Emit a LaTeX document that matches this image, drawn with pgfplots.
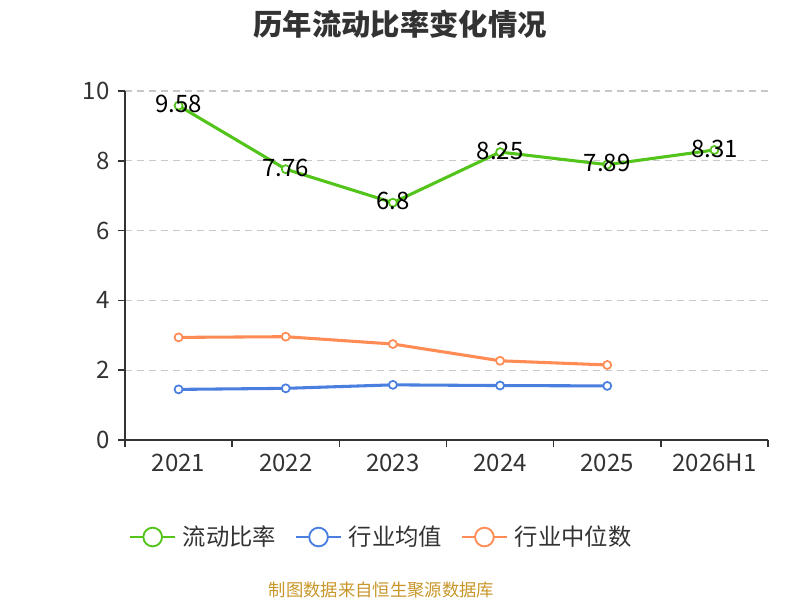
\documentclass[border=0pt]{standalone}
\usepackage{fontspec}
\setmainfont{Noto Sans CJK SC}
\usepackage{pgfplots}
\pgfplotsset{compat=1.18}
\definecolor{cgreen}{HTML}{52C41A}
\definecolor{cblue}{HTML}{4A7FE0}
\definecolor{corange}{HTML}{FF8C55}
\definecolor{ctext}{HTML}{333333}
\definecolor{cgrid}{HTML}{C8C8C8}
\definecolor{cfoot}{HTML}{C8962A}
\begin{document}
\begin{tikzpicture}
\path[use as bounding box] (0pt,0pt) rectangle (600pt,450pt);
\node[font=\fontsize{22}{26}\selectfont\bfseries,text=ctext] at (300pt,432pt) {历年流动比率变化情况};
\node[font=\fontsize{13}{16}\selectfont,text=cfoot] at (286pt,7.5pt) {制图数据来自恒生聚源数据库};
\begin{axis}[
  at={(93.75pt,120pt)}, anchor=south west,
  scale only axis, width=482.25pt, height=261.75pt,
  xmin=-0.5, xmax=5.5, ymin=0, ymax=10,
  axis lines*=left,
  axis line style={ctext, line width=1.1pt},
  xtick={-0.5,0.5,1.5,2.5,3.5,4.5,5.5},
  x tick label as interval,
  xticklabels={2021,2022,2023,2024,2025,2026H1},
  ytick={0,2,4,6,8,10},
  tick style={ctext, line width=1.1pt},
  tick align=outside,
  major tick length=5pt,
  ymajorgrids,
  y grid style={cgrid, dash pattern=on 5pt off 4pt, line width=0.8pt},
  ticklabel style={font=\fontsize{18}{21}\selectfont, text=ctext},
  /pgf/number format/assume math mode=true,
  yticklabel style={xshift=-3pt},
  xticklabel style={yshift=-2pt},
  legend columns=3,
  legend style={at={(0.399,-0.278)}, anchor=center, draw=none, fill=none,
    font=\fontsize{17.5}{21}\selectfont, text=ctext,
    /tikz/every odd column/.append style={column sep=3pt},
    /tikz/every even column/.append style={column sep=12pt}},
  legend image code/.code={
    \draw[#1,mark=none,line width=1.4pt] (0pt,0pt) -- (34pt,0pt);
    \draw[#1,mark=none,line width=1.4pt,fill=white] (17pt,0pt) circle (7pt);},
  every axis plot/.append style={line width=2.3pt, mark=*, mark size=3pt,
    mark options={fill=white, line width=1.3pt}},
]
\addplot[cgreen, nodes near coords, point meta=explicit symbolic,
  every node near coord/.style={anchor=center, yshift=1pt, text=black,
    font=\fontsize{18}{21}\selectfont}]
  coordinates {(0,9.58)[9.58] (1,7.76)[7.76] (2,6.8)[6.8] (3,8.25)[8.25] (4,7.89)[7.89] (5,8.31)[8.31]};
\addlegendentry{流动比率}
\addplot[cblue] coordinates {(0,1.45) (1,1.48) (2,1.58) (3,1.56) (4,1.55)};
\addlegendentry{行业均值}
\addplot[corange] coordinates {(0,2.94) (1,2.96) (2,2.75) (3,2.27) (4,2.15)};
\addlegendentry{行业中位数}
\end{axis}
\end{tikzpicture}
\end{document}
